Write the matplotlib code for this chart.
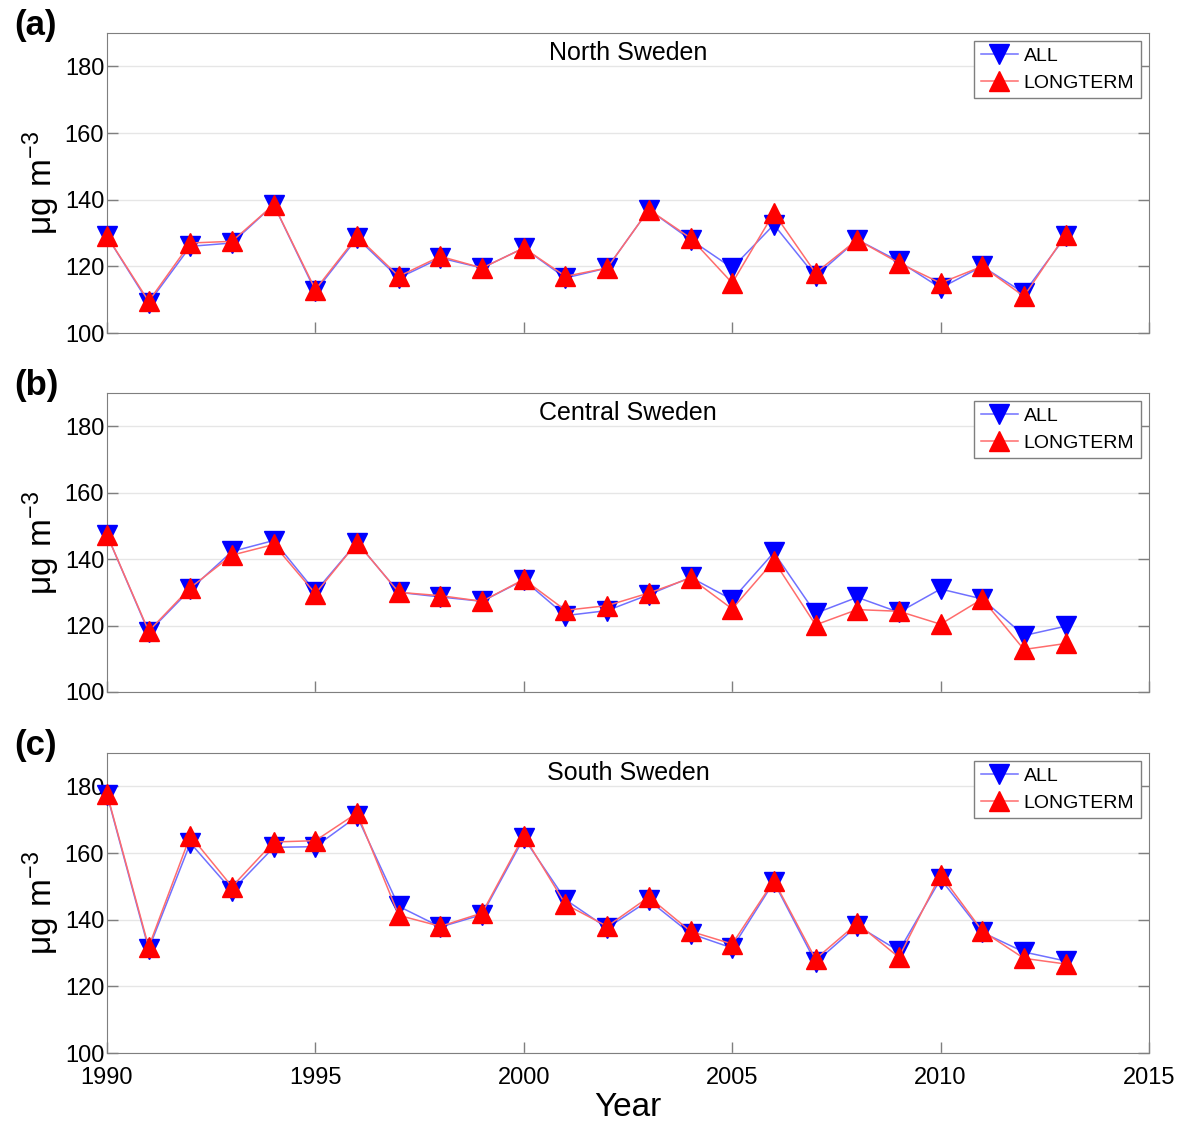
import matplotlib
matplotlib.use("Agg")
from matplotlib import pyplot as plt

plt.rcParams['font.family'] = ['Liberation Sans', 'DejaVu Sans']

# data (annual means, ug m-3)
years = list(range(1990, 2014))

north_all = [129, 109, 126, 127, 138.5, 112.5, 128.5, 116.5, 122.5, 119.5, 125.5, 116.5,
             119.5, 137, 128, 119.5, 132.5, 117, 128, 121.5, 113.5, 120, 112, 129]
north_long = [129, 109.5, 127, 127.5, 138.5, 113, 129, 117, 123, 119.5, 125.5, 117,
              119.5, 137, 128.5, 115, 136, 118, 128, 121, 115, 120, 111, 129.5]

central_all = [147.3, 118, 130.9, 142.3, 145.6, 130.2, 145, 130, 128.6, 127.3, 133.7, 123,
               124.5, 129.3, 134.5, 127.8, 142, 123.7, 128.5, 124, 131, 128, 117, 119.8]
central_long = [147.3, 118.3, 131.4, 141.2, 144.4, 129.6, 145, 130, 129, 127.3, 133.9, 124.6,
                126, 129.8, 134.3, 125, 139.5, 120.2, 124.8, 124.3, 120.4, 128, 112.8, 114.6]

south_all = [177.5, 131.2, 163, 148.7, 161.7, 161.9, 171, 144, 137.8, 141.5, 164.5, 146,
             137.5, 145.8, 135.8, 131.5, 151.3, 127.2, 138.2, 130.6, 152.2, 136.2, 130.3, 127.6]
south_long = [177.8, 131.8, 165.2, 149.9, 163.3, 163.7, 172, 141.3, 138, 142, 165.2, 144.6,
              138, 146.8, 136.5, 132.7, 151.7, 128.2, 138.9, 128.7, 153.5, 136.6, 128.4, 126.7]

panels = [("(a)", "North Sweden", north_all, north_long),
          ("(b)", "Central Sweden", central_all, central_long),
          ("(c)", "South Sweden", south_all, south_long)]

y_ticks = [100, 120, 140, 160, 180]
x_ticks = [1990, 1995, 2000, 2005, 2010, 2015]

W, H = 1187, 1126
fig = plt.figure(figsize=(W / 100, H / 100), dpi=100)

# axes boxes in pixels: (top, bottom)
boxes = [(33, 333), (393, 692), (753, 1053)]
left, right = 107, 1149
frame_col = '#7f7f7f'

for i, (tag, title, v_all, v_long) in enumerate(panels):
    top, bot = boxes[i]
    ax = fig.add_axes([left / W, 1 - bot / H, (right - left) / W, (bot - top) / H])

    ax.plot(years, v_all, color='#7070ff', lw=1.1, marker='v', ms=14,
            mfc='blue', mec='blue', label='ALL', clip_on=False, zorder=3)
    ax.plot(years, v_long, color='#ff6c6c', lw=1.1, marker='^', ms=14,
            mfc='red', mec='red', label='LONGTERM', clip_on=False, zorder=4)

    ax.set_xlim(1990, 2015)
    ax.set_ylim(100, 190)
    ax.set_yticks(y_ticks)
    ax.set_xticks(x_ticks)
    if i < 2:
        ax.set_xticklabels([])
    ax.yaxis.grid(True, color='#e6e6e6', lw=1)
    ax.set_axisbelow(True)
    ax.tick_params(direction='in', length=8, width=1, color=frame_col,
                   labelsize=17, right=True)
    ax.tick_params(axis='y', pad=2)
    ax.tick_params(axis='x', pad=10)
    for s in ax.spines.values():
        s.set_color(frame_col)

    ax.text(0.5, 0.933, title, transform=ax.transAxes, ha='center', va='center', fontsize=18)

    leg = ax.legend(loc='upper right', fontsize=14, fancybox=False, framealpha=1,
                    edgecolor=frame_col, handlelength=1.9, labelspacing=0.45,
                    borderaxespad=0.4, borderpad=0.35, handletextpad=0.3)
    leg.get_frame().set_linewidth(1)

    fig.text(0.012, 1 - (top - 8) / H, tag, fontsize=25, fontweight='bold',
             ha='left', va='center')
    fig.text(41 / W, 1 - (top + bot) / 2 / H, r'$\mathregular{\mu g\ m^{-3}}$',
             rotation=90, ha='center', va='center', fontsize=24)

fig.text((left + right) / 2 / W, 1 - 1108 / H, 'Year', ha='center', va='center', fontsize=24)

fig.savefig('out.png', dpi=100)
